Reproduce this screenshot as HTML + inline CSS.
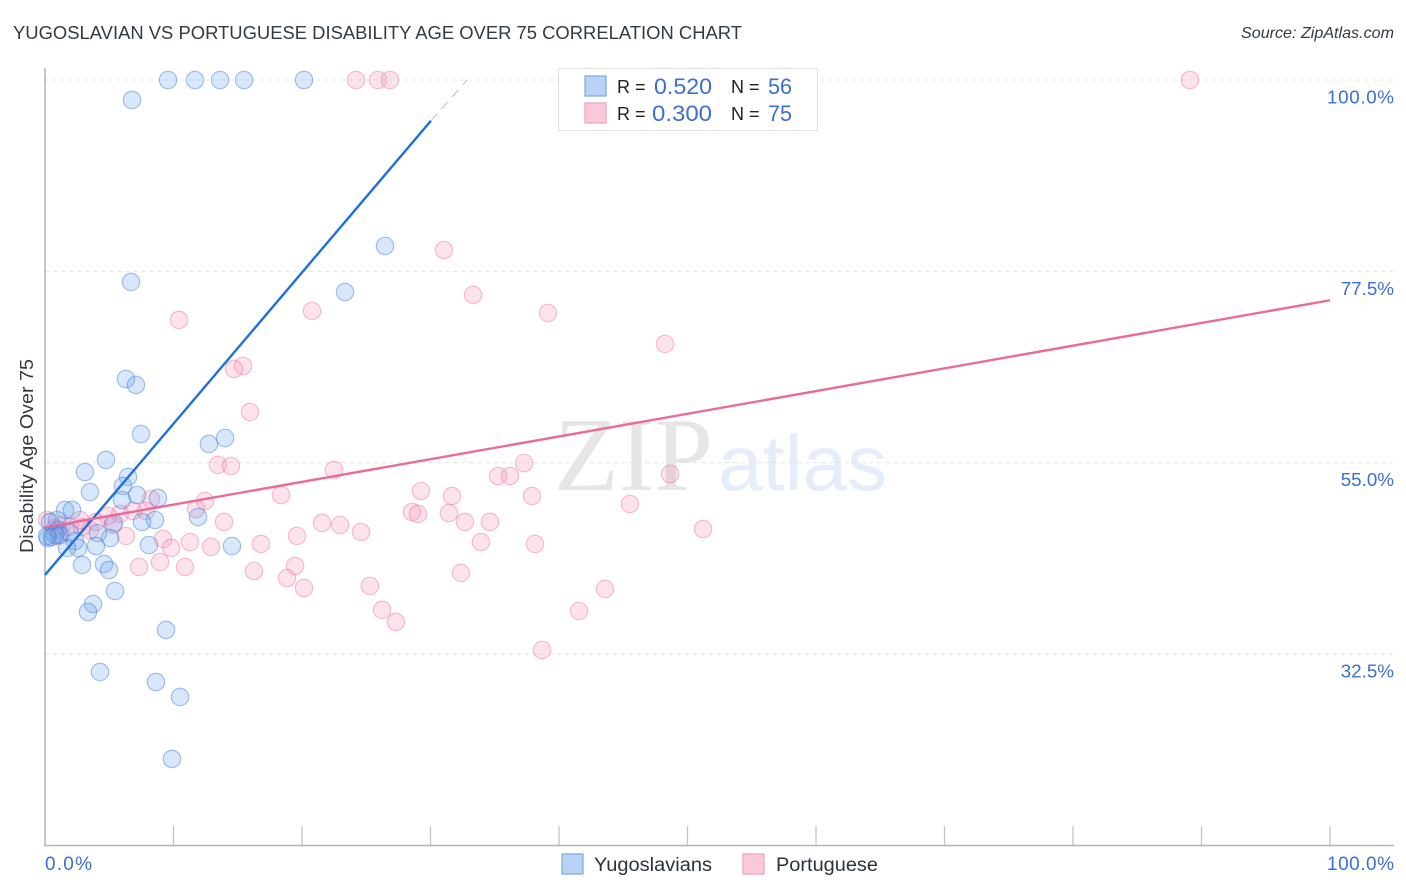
<!DOCTYPE html>
<html lang="en">
<head>
<meta charset="utf-8">
<title>Yugoslavian vs Portuguese Disability Age Over 75 Correlation Chart</title>
<style>
html,body{margin:0;padding:0;background:#fff;}
svg{display:block;font-family:"Liberation Sans",sans-serif;}
</style>
</head>
<body>
<svg id="chart" width="1406" height="892" viewBox="0 0 1406 892" xmlns="http://www.w3.org/2000/svg">
  <rect x="0" y="0" width="1406" height="892" fill="#ffffff"/>
  <text x="13" y="39" font-size="18" fill="#333a42" textLength="729" lengthAdjust="spacingAndGlyphs">YUGOSLAVIAN VS PORTUGUESE DISABILITY AGE OVER 75 CORRELATION CHART</text>
  <text x="1394" y="38" font-size="16" font-style="italic" fill="#333a42" text-anchor="end" textLength="153" lengthAdjust="spacingAndGlyphs">Source: ZipAtlas.com</text>

  <g>
    <text x="554" y="490" font-family="'Liberation Serif',serif" font-size="105" fill="#e6e6e6" textLength="159" lengthAdjust="spacingAndGlyphs">ZIP</text>
    <text x="718" y="490" font-size="78" fill="#e4edf9" textLength="169" lengthAdjust="spacingAndGlyphs">atlas</text>
  </g>

  <g id="grid"></g>
  <g id="axes">
    <line x1="45" y1="68" x2="45" y2="845.5" stroke="#b4b4b4" stroke-width="1.5"/>
    <line x1="44" y1="845.5" x2="1394" y2="845.5" stroke="#b4b4b4" stroke-width="1.5"/>
  </g>
  <g id="xticks"></g>
  <g id="ylabels"></g>
  <g id="xlabels"></g>
  <text transform="translate(33,456) rotate(-90)" font-size="18" fill="#333a42" text-anchor="middle" textLength="194" lengthAdjust="spacingAndGlyphs">Disability Age Over 75</text>

  <g id="pinkPoints"></g>
  <g id="bluePoints"></g>
  <g id="trends"></g>

  <g>
    <rect x="558.5" y="68.5" width="259" height="62" fill="#ffffff" stroke="#e4e4e4" stroke-width="1.2"/>
    <rect x="585" y="76" width="21" height="20" fill="#b9d3f6" stroke="#7ea6dd" stroke-width="1.2"/>
    <rect x="585" y="103" width="21" height="20" fill="#fbc8d9" stroke="#f0a0b8" stroke-width="1.2"/>
    <text x="617" y="93" font-size="18" fill="#222">R =</text>
    <text x="712" y="94" font-size="22" fill="#3b6fd4" text-anchor="end" textLength="58" lengthAdjust="spacingAndGlyphs">0.520</text>
    <text x="731" y="93" font-size="18" fill="#222">N =</text>
    <text x="792" y="94" font-size="22" fill="#3b6fd4" text-anchor="end" textLength="24" lengthAdjust="spacingAndGlyphs">56</text>
    <text x="617" y="120" font-size="18" fill="#222">R =</text>
    <text x="712" y="121" font-size="22" fill="#3b6fd4" text-anchor="end" textLength="60" lengthAdjust="spacingAndGlyphs">0.300</text>
    <text x="731" y="120" font-size="18" fill="#222">N =</text>
    <text x="792" y="121" font-size="22" fill="#3b6fd4" text-anchor="end" textLength="24" lengthAdjust="spacingAndGlyphs">75</text>
  </g>

  <g>
    <rect x="562" y="854" width="21" height="20" fill="#b9d3f6" stroke="#7ea6dd" stroke-width="1.2"/>
    <text x="594" y="871" font-size="19" fill="#2c333b" textLength="118" lengthAdjust="spacingAndGlyphs">Yugoslavians</text>
    <rect x="743" y="854" width="21" height="20" fill="#fbc8d9" stroke="#f0a0b8" stroke-width="1.2"/>
    <text x="776" y="871" font-size="19" fill="#2c333b" textLength="102" lengthAdjust="spacingAndGlyphs">Portuguese</text>
  </g>
</svg>
<script>
const yTickValues = [100, 77.5, 55, 32.5];
const yTickLabels = ["100.0%", "77.5%", "55.0%", "32.5%"];
const xTickValues = [10, 20, 30, 40, 50, 60, 70, 80, 90, 100];
const xEndLabels = ["0.0%", "100.0%"];

const blueX = [9.57,11.67,13.62,15.49,20.16,6.77,26.46,6.69,23.35,6.30,7.08,7.47,14.01,12.76,4.75,3.11,6.46,3.50,6.07,7.16,5.99,8.79,11.91,8.56,7.55,1.56,2.10,0.93,0.39,1.01,0.23,0.54,1.17,1.95,4.12,5.06,2.33,2.57,1.71,3.97,8.09,14.55,2.88,4.59,4.98,5.45,3.74,3.35,9.42,4.28,8.64,10.51,9.88,5.37,0.78,0.16];
const blueY = [100,100,100,100,100,97.65,80.48,76.25,75.07,64.84,64.14,58.37,57.90,57.20,55.32,53.90,53.32,51.55,52.26,51.20,50.61,50.85,48.61,48.26,48.03,49.44,49.44,48.26,48.03,47.08,46.14,46.26,46.50,46.73,46.73,46.14,45.79,44.97,44.97,45.20,45.32,45.20,42.97,43.09,42.38,39.91,38.38,37.44,35.33,30.39,29.21,27.45,20.16,47.91,46.50,46.38];

const pinkX = [24.20,25.91,26.85,89.10,31.05,33.31,20.78,39.14,10.43,48.25,15.41,14.71,15.95,13.46,14.47,22.49,37.28,35.25,36.19,48.64,29.26,31.67,37.90,18.37,12.45,8.25,45.52,11.75,28.56,29.03,31.44,13.93,32.68,34.63,21.56,22.96,24.59,19.61,51.21,33.93,38.13,16.81,11.28,9.18,9.81,12.92,6.30,7.32,8.95,10.89,16.26,19.46,18.83,20.16,25.29,32.37,43.58,41.56,26.23,27.31,38.68,0.16,0.78,1.32,1.95,2.72,2.88,3.97,4.90,5.84,6.85,7.86,5.29,3.50,1.01];
const pinkY = [100,100,100,100,80.01,74.72,72.84,72.60,71.78,68.96,66.37,66.02,60.96,54.73,54.61,54.14,54.96,53.43,53.43,53.67,51.67,51.08,51.08,51.20,50.49,50.73,50.14,49.55,49.20,48.97,49.08,48.03,48.03,48.03,47.91,47.67,46.85,46.38,47.20,45.67,45.44,45.44,45.67,46.03,44.97,45.09,46.38,42.73,43.32,42.73,42.26,42.85,41.44,40.26,40.50,42.03,40.15,37.56,37.68,36.27,32.97,48.26,47.32,47.67,47.44,48.26,47.44,48.03,48.73,48.97,49.32,49.32,47.67,47.08,46.38];

const blueTrendSolidX = [0, 30.03];
const blueTrendSolidY = [41.8, 95.2];
const blueTrendDashedX = [30.03, 32.85];
const blueTrendDashedY = [95.2, 100];
const pinkTrendX = [0, 100];
const pinkTrendY = [47.4, 74.1];

const svgNS = 'http://www.w3.org/2000/svg';
function scaleX(v) { return 45 + v * 12.85; }
function scaleY(v) { return 80 + (100 - v) * 8.504; }
function make(tag, attrs, parent) {
  const el = document.createElementNS(svgNS, tag);
  for (const k in attrs) el.setAttribute(k, attrs[k]);
  parent.appendChild(el);
  return el;
}

const gridG = document.getElementById('grid');
const yLabelG = document.getElementById('ylabels');
yTickValues.forEach(function (v, i) {
  const y = scaleY(v);
  const gl = make('line', {x1: 45, y1: y, x2: 1393, y2: y, stroke: '#e3e3e3', 'stroke-width': 1, 'stroke-dasharray': '4 4'}, gridG);
  
  
  const t = make('text', {x: 1394, y: y + 23.5, 'font-size': 18.8, fill: '#3b6fd4', 'text-anchor': 'end'}, yLabelG);
  t.textContent = yTickLabels[i];
  if (yTickLabels[i].length === 6) t.setAttribute('textLength', '67');
  
  
});

const xTickG = document.getElementById('xticks');
xTickValues.forEach(function (v) {
  const x = scaleX(v);
  const tk = make('line', {x1: x, y1: 826, x2: x, y2: 845, stroke: '#c4c4c4', 'stroke-width': 1.3}, xTickG);
  
  
});

const xLabelG = document.getElementById('xlabels');
const xStart = make('text', {x: scaleX(0), y: 870, 'font-size': 19, fill: '#3b6fd4', textLength: 47}, xLabelG);
xStart.textContent = xEndLabels[0];


const xEnd = make('text', {x: 1394, y: 870, 'font-size': 19, fill: '#3b6fd4', 'text-anchor': 'end', textLength: 67}, xLabelG);
xEnd.textContent = xEndLabels[1];



const pinkG = document.getElementById('pinkPoints');
pinkX.forEach(function (v, i) {
  const c = make('circle', {cx: scaleX(v), cy: scaleY(pinkY[i]), r: 8.7, fill: 'rgba(244,143,177,0.25)', stroke: 'rgba(232,110,150,0.42)', 'stroke-width': 1.2}, pinkG);
  
  
});

const blueG = document.getElementById('bluePoints');
blueX.forEach(function (v, i) {
  const c = make('circle', {cx: scaleX(v), cy: scaleY(blueY[i]), r: 8.7, fill: 'rgba(100,160,235,0.25)', stroke: 'rgba(50,115,215,0.42)', 'stroke-width': 1.2}, blueG);
  
  
});

const trendG = document.getElementById('trends');
const blueSolid = make('line', {x1: scaleX(blueTrendSolidX[0]), y1: scaleY(blueTrendSolidY[0]), x2: scaleX(blueTrendSolidX[1]), y2: scaleY(blueTrendSolidY[1]), stroke: '#1f6fdc', 'stroke-width': 2.4}, trendG);


const blueDashed = make('line', {x1: scaleX(blueTrendDashedX[0]), y1: scaleY(blueTrendDashedY[0]), x2: scaleX(blueTrendDashedX[1]), y2: scaleY(blueTrendDashedY[1]), stroke: '#8ea6d6', 'stroke-width': 0.7, 'stroke-dasharray': '9 7'}, trendG);


const pinkTrend = make('line', {x1: scaleX(pinkTrendX[0]), y1: scaleY(pinkTrendY[0]), x2: scaleX(pinkTrendX[1]), y2: scaleY(pinkTrendY[1]), stroke: '#ec6a9a', 'stroke-width': 2.4}, trendG);


</script>
</body>
</html>
